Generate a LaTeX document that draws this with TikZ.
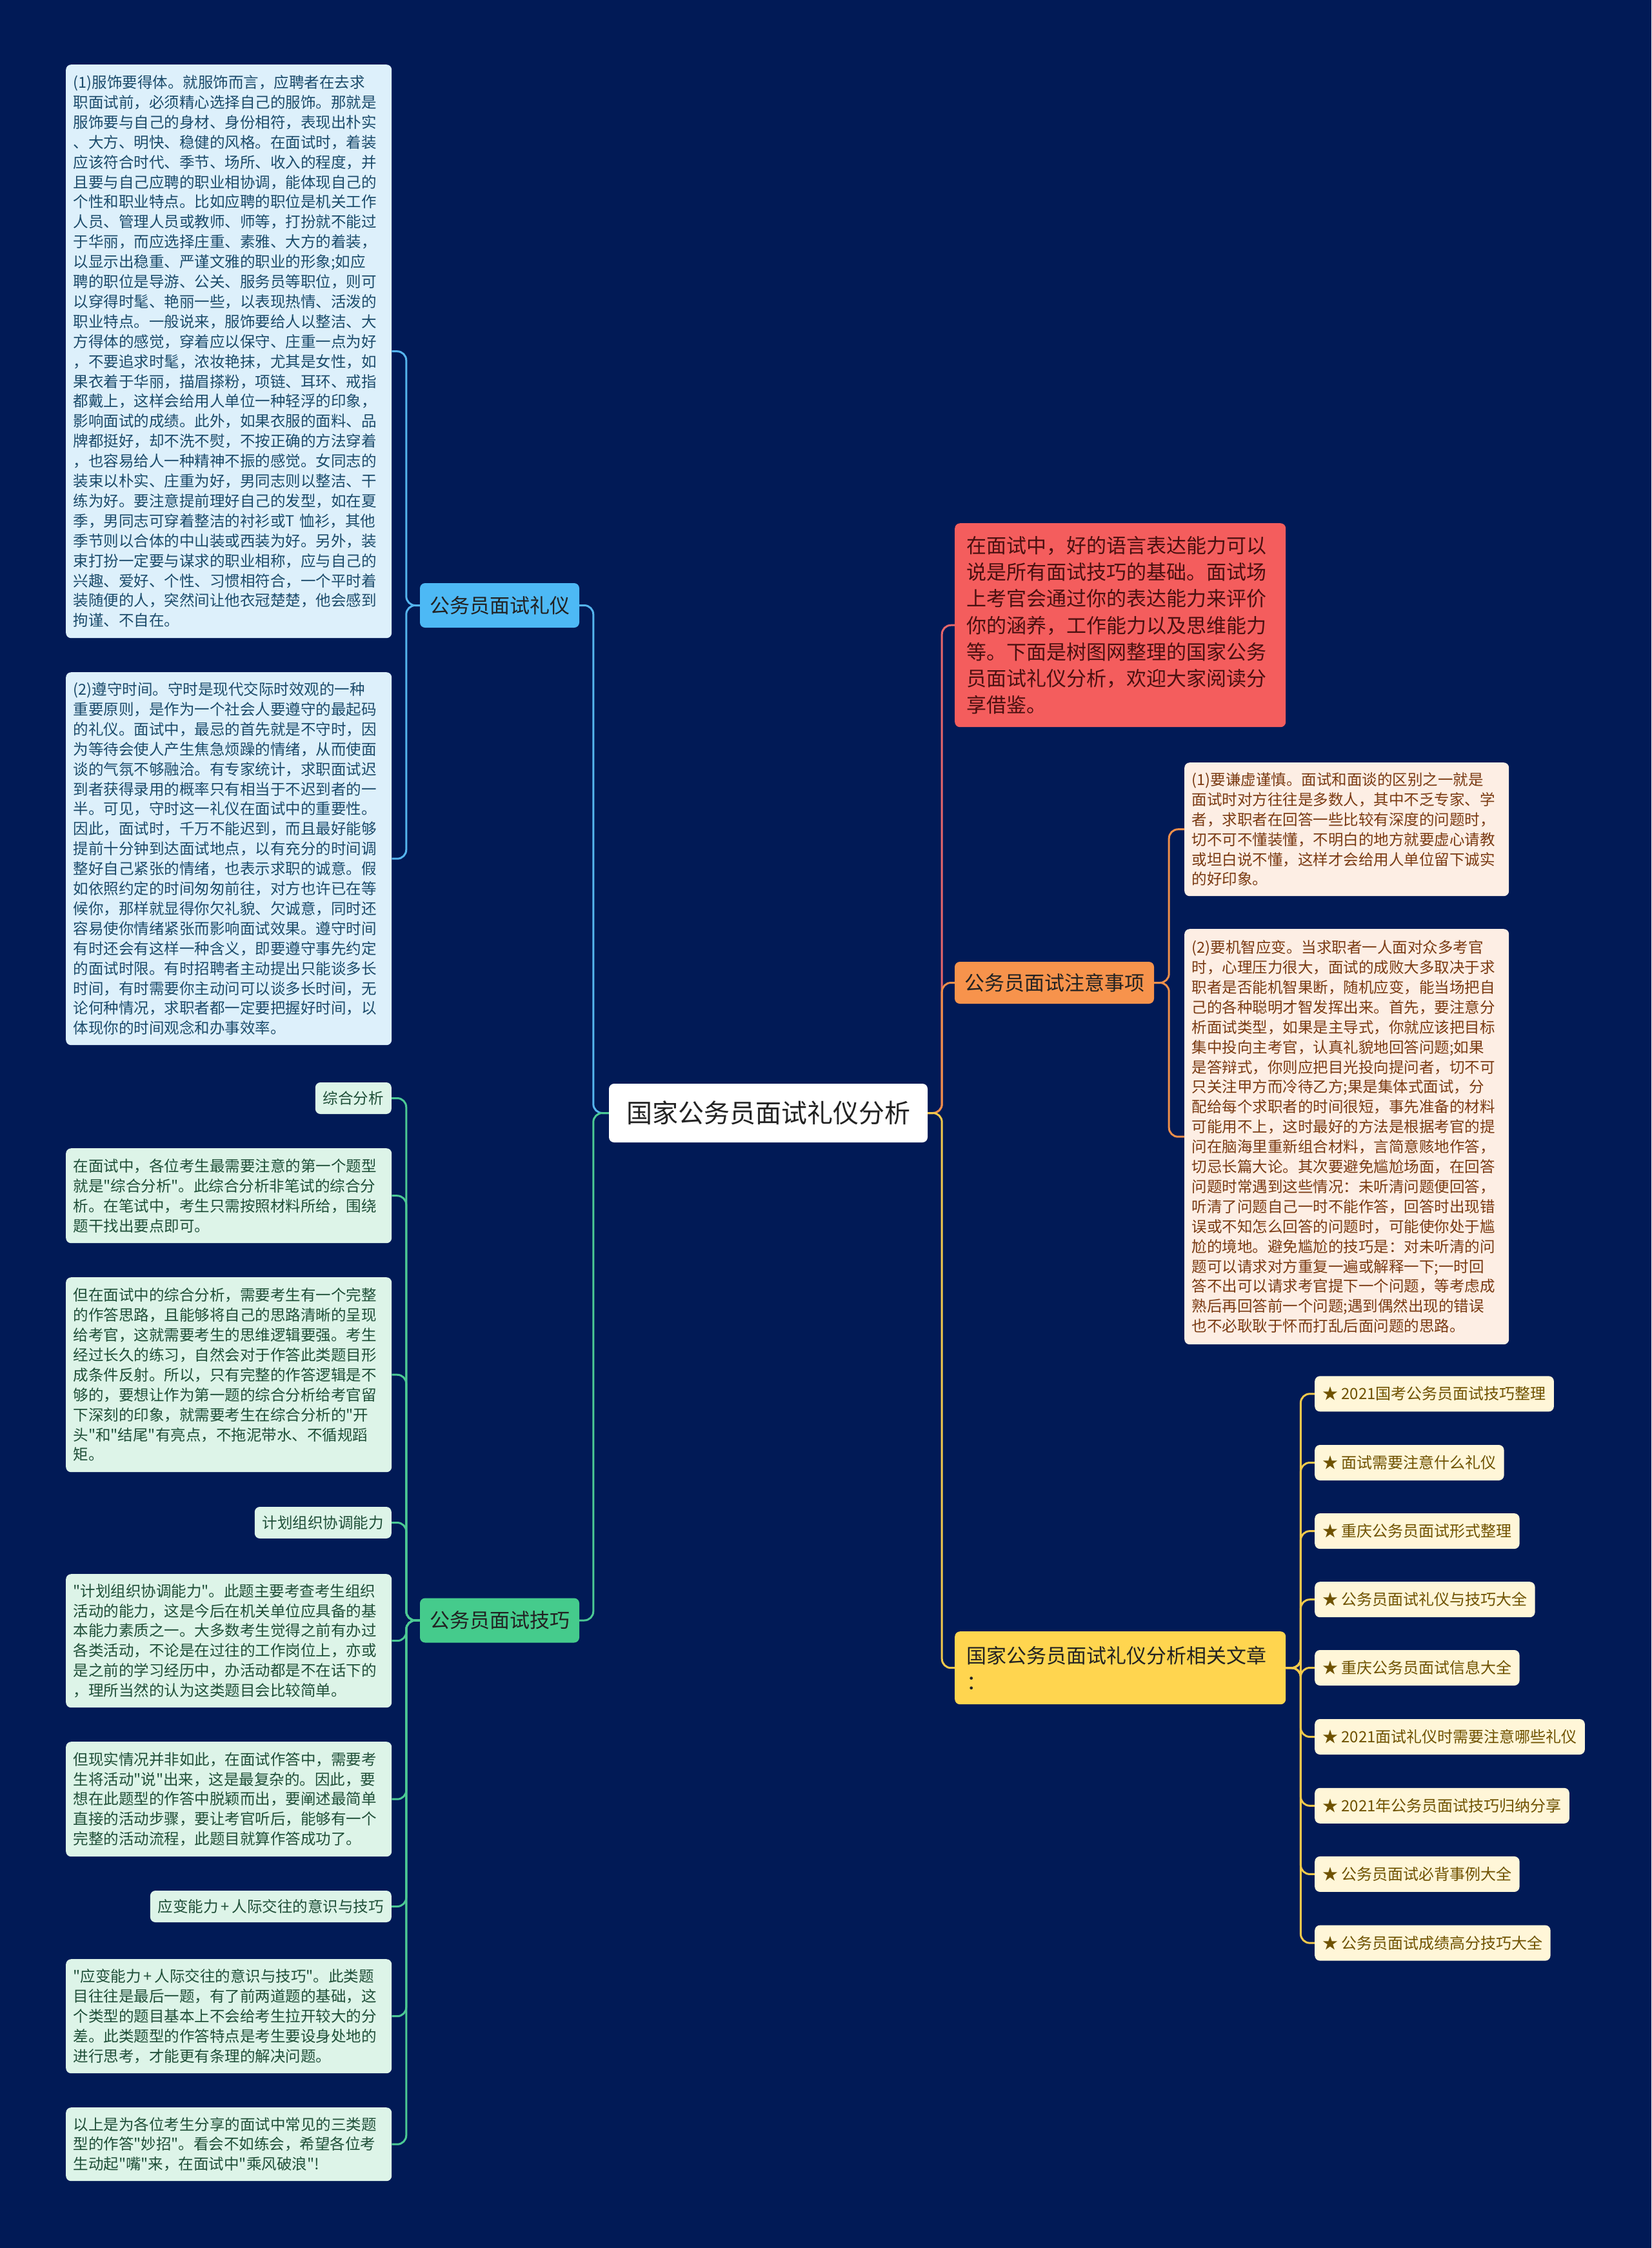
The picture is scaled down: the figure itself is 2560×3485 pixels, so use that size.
\documentclass[tikz,border=0pt]{standalone}
\usepackage{fontspec}
\setmainfont{Noto Sans CJK SC}
\newfontfamily\cjk{Noto Sans CJK SC}
\definecolor{bgc}{HTML}{011A56}
\definecolor{bluefill}{HTML}{DDF0FB}
\definecolor{bluetext}{HTML}{1B4B6B}
\definecolor{bluenode}{HTML}{4DB9F5}
\definecolor{blueline}{HTML}{55B5EE}
\definecolor{greenfill}{HTML}{DDF4E8}
\definecolor{greentext}{HTML}{1F4F38}
\definecolor{greennode}{HTML}{45CB8C}
\definecolor{greenline}{HTML}{4CC994}
\definecolor{redfill}{HTML}{F45D5D}
\definecolor{redtext}{HTML}{4A1010}
\definecolor{redline}{HTML}{E8676B}
\definecolor{orangenode}{HTML}{F7934C}
\definecolor{orangefill}{HTML}{FDEEE4}
\definecolor{orangetext}{HTML}{7A3A12}
\definecolor{orangeline}{HTML}{EE8F4A}
\definecolor{yellownode}{HTML}{FFD54F}
\definecolor{yellowfill}{HTML}{FFF6D8}
\definecolor{yellowtext}{HTML}{6F5200}
\definecolor{yellowline}{HTML}{F2C94C}
\definecolor{maintext}{HTML}{222222}
\tikzset{
  base/.style={rounded corners=8pt, inner ysep=0pt, align=left},
  small/.style={font=\cjk\fontsize{23.5}{30.9}\selectfont},
  big/.style={font=\cjk\fontsize{31}{41.1}\selectfont},
  blockbox/.style={base, small, text width=482pt, inner xsep=11.5pt, anchor=north west},
  bluebox/.style={blockbox, fill=bluefill, text=bluetext},
  greenbox/.style={blockbox, fill=greenfill, text=greentext},
  orangebox/.style={blockbox, fill=orangefill, text=orangetext, text width=480pt, inner xsep=11.5pt},
  greenlabel/.style={base, small, fill=greenfill, text=greentext, inner xsep=12pt, minimum height=49pt, anchor=east},
  mainnode/.style={base, big, text=maintext, minimum width=247pt, minimum height=69pt, inner xsep=0pt, align=center},
  rootnode/.style={base, fill=white, text=maintext, font=\cjk\fontsize{40}{48}\selectfont, minimum width=494pt, minimum height=91pt, inner xsep=0pt, align=center},
  bigbox/.style={base, big, text width=477pt, inner xsep=18pt, anchor=north west},
  itembox/.style={base, fill=yellowfill, text=yellowtext, font=\cjk\fontsize{24}{30}\selectfont, inner xsep=12pt, minimum height=55pt, anchor=west},
  conn/.style={line width=3pt, rounded corners=14pt}
}
\begin{document}
\begin{tikzpicture}[x=1pt,y=-1pt]
\fill[bgc] (0,0) rectangle (2560,3485);
\useasboundingbox (0,0) rectangle (2560,3485);

% root
\node[rootnode] (root) at (1191,1725.5) {国家公务员面试礼仪分析};

% left main branches
\node[mainnode, fill=bluenode] (bm) at (774.5,938.5) {公务员面试礼仪};
\node[mainnode, fill=greennode] (gm) at (774.5,2512) {公务员面试技巧};

% blue blocks
\node[bluebox, minimum height=889pt] (b1) at (102,100) {(1)服饰要得体。就服饰而言，应聘者在去求\\
职面试前，必须精心选择自己的服饰。那就是\\
服饰要与自己的身材、身份相符，表现出朴实\\
、大方、明快、稳健的风格。在面试时，着装\\
应该符合时代、季节、场所、收入的程度，并\\
且要与自己应聘的职业相协调，能体现自己的\\
个性和职业特点。比如应聘的职位是机关工作\\
人员、管理人员或教师、师等，打扮就不能过\\
于华丽，而应选择庄重、素雅、大方的着装，\\
以显示出稳重、严谨文雅的职业的形象;如应\\
聘的职位是导游、公关、服务员等职位，则可\\
以穿得时髦、艳丽一些，以表现热情、活泼的\\
职业特点。一般说来，服饰要给人以整洁、大\\
方得体的感觉，穿着应以保守、庄重一点为好\\
，不要追求时髦，浓妆艳抹，尤其是女性，如\\
果衣着于华丽，描眉搽粉，项链、耳环、戒指\\
都戴上，这样会给用人单位一种轻浮的印象，\\
影响面试的成绩。此外，如果衣服的面料、品\\
牌都挺好，却不洗不熨，不按正确的方法穿着\\
，也容易给人一种精神不振的感觉。女同志的\\
装束以朴实、庄重为好，男同志则以整洁、干\\
练为好。要注意提前理好自己的发型，如在夏\\
季，男同志可穿着整洁的衬衫或T 恤衫，其他\\
季节则以合体的中山装或西装为好。另外，装\\
束打扮一定要与谋求的职业相称，应与自己的\\
兴趣、爱好、个性、习惯相符合，一个平时着\\
装随便的人，突然间让他衣冠楚楚，他会感到\\
拘谨、不自在。};

\node[bluebox, minimum height=578pt] (b2) at (102,1042) {(2)遵守时间。守时是现代交际时效观的一种\\
重要原则，是作为一个社会人要遵守的最起码\\
的礼仪。面试中，最忌的首先就是不守时，因\\
为等待会使人产生焦急烦躁的情绪，从而使面\\
谈的气氛不够融洽。有专家统计，求职面试迟\\
到者获得录用的概率只有相当于不迟到者的一\\
半。可见，守时这一礼仪在面试中的重要性。\\
因此，面试时，千万不能迟到，而且最好能够\\
提前十分钟到达面试地点，以有充分的时间调\\
整好自己紧张的情绪，也表示求职的诚意。假\\
如依照约定的时间匆匆前往，对方也许已在等\\
候你，那样就显得你欠礼貌、欠诚意，同时还\\
容易使你情绪紧张而影响面试效果。遵守时间\\
有时还会有这样一种含义，即要遵守事先约定\\
的面试时限。有时招聘者主动提出只能谈多长\\
时间，有时需要你主动问可以谈多长时间，无\\
论何种情况，求职者都一定要把握好时间，以\\
体现你的时间观念和办事效率。};

% green children
\node[greenlabel] (g0) at (607,1702.5) {综合分析};
\node[greenbox, minimum height=147pt] (g1) at (102,1780) {在面试中，各位考生最需要注意的第一个题型\\
就是"综合分析"。此综合分析非笔试的综合分\\
析。在笔试中，考生只需按照材料所给，围绕\\
题干找出要点即可。};
\node[greenbox, minimum height=302pt] (g2) at (102,1980) {但在面试中的综合分析，需要考生有一个完整\\
的作答思路，且能够将自己的思路清晰的呈现\\
给考官，这就需要考生的思维逻辑要强。考生\\
经过长久的练习，自然会对于作答此类题目形\\
成条件反射。所以，只有完整的作答逻辑是不\\
够的，要想让作为第一题的综合分析给考官留\\
下深刻的印象，就需要考生在综合分析的"开\\
头"和"结尾"有亮点，不拖泥带水、不循规蹈\\
矩。};
\node[greenlabel] (g3) at (607,2360.5) {计划组织协调能力};
\node[greenbox, minimum height=207pt] (g4) at (102,2440) {"计划组织协调能力"。此题主要考查考生组织\\
活动的能力，这是今后在机关单位应具备的基\\
本能力素质之一。大多数考生觉得之前有办过\\
各类活动，不论是在过往的工作岗位上，亦或\\
是之前的学习经历中，办活动都是不在话下的\\
，理所当然的认为这类题目会比较简单。};
\node[greenbox, minimum height=178pt] (g5) at (102,2700) {但现实情况并非如此，在面试作答中，需要考\\
生将活动"说"出来，这是最复杂的。因此，要\\
想在此题型的作答中脱颖而出，要阐述最简单\\
直接的活动步骤，要让考官听后，能够有一个\\
完整的活动流程，此题目就算作答成功了。};
\node[greenlabel] (g6) at (607,2955.5) {应变能力\,+\,人际交往的意识与技巧};
\node[greenbox, minimum height=177pt] (g7) at (102,3037) {"应变能力\,+\,人际交往的意识与技巧"。此类题\\
目往往是最后一题，有了前两道题的基础，这\\
个类型的题目基本上不会给考生拉开较大的分\\
差。此类题型的作答特点是考生要设身处地的\\
进行思考，才能更有条理的解决问题。};
\node[greenbox, minimum height=114pt] (g8) at (102,3267) {以上是为各位考生分享的面试中常见的三类题\\
型的作答"妙招"。看会不如练会，希望各位考\\
生动起"嘴"来，在面试中"乘风破浪"!};

% right side
\node[bigbox, fill=redfill, text=redtext, minimum height=316pt] (red) at (1480,811) {在面试中，好的语言表达能力可以\\
说是所有面试技巧的基础。面试场\\
上考官会通过你的表达能力来评价\\
你的涵养，工作能力以及思维能力\\
等。下面是树图网整理的国家公务\\
员面试礼仪分析，欢迎大家阅读分\\
享借鉴。};

\node[mainnode, fill=orangenode, minimum width=309pt, minimum height=65pt] (om) at (1634.5,1523.5) {公务员面试注意事项};

\node[orangebox, minimum height=207pt] (o1) at (1836,1182) {(1)要谦虚谨慎。面试和面谈的区别之一就是\\
面试时对方往往是多数人，其中不乏专家、学\\
者，求职者在回答一些比较有深度的问题时，\\
切不可不懂装懂，不明白的地方就要虚心请教\\
或坦白说不懂，这样才会给用人单位留下诚实\\
的好印象。};

\node[orangebox, minimum height=644pt] (o2) at (1836,1440) {(2)要机智应变。当求职者一人面对众多考官\\
时，心理压力很大，面试的成败大多取决于求\\
职者是否能机智果断，随机应变，能当场把自\\
己的各种聪明才智发挥出来。首先，要注意分\\
析面试类型，如果是主导式，你就应该把目标\\
集中投向主考官，认真礼貌地回答问题;如果\\
是答辩式，你则应把目光投向提问者，切不可\\
只关注甲方而冷待乙方;果是集体式面试，分\\
配给每个求职者的时间很短，事先准备的材料\\
可能用不上，这时最好的方法是根据考官的提\\
问在脑海里重新组合材料，言简意赅地作答，\\
切忌长篇大论。其次要避免尴尬场面，在回答\\
问题时常遇到这些情况：未听清问题便回答，\\
听清了问题自己一时不能作答，回答时出现错\\
误或不知怎么回答的问题时，可能使你处于尴\\
尬的境地。避免尴尬的技巧是：对未听清的问\\
题可以请求对方重复一遍或解释一下;一时回\\
答不出可以请求考官提下一个问题，等考虑成\\
熟后再回答前一个问题;遇到偶然出现的错误\\
也不必耿耿于怀而打乱后面问题的思路。};

\node[bigbox, fill=yellownode, text=maintext, minimum height=113pt] (ym) at (1480,2529) {国家公务员面试礼仪分析相关文章\\
：};

\node[itembox] (y1) at (2038,2160.8) {★ 2021国考公务员面试技巧整理};
\node[itembox] (y2) at (2038,2267.5) {★ 面试需要注意什么礼仪};
\node[itembox] (y3) at (2038,2373.6) {★ 重庆公务员面试形式整理};
\node[itembox] (y4) at (2038,2479.7) {★ 公务员面试礼仪与技巧大全};
\node[itembox] (y5) at (2038,2585.5) {★ 重庆公务员面试信息大全};
\node[itembox] (y6) at (2038,2692.5) {★ 2021面试礼仪时需要注意哪些礼仪};
\node[itembox] (y7) at (2038,2799.3) {★ 2021年公务员面试技巧归纳分享};
\node[itembox] (y8) at (2038,2905.4) {★ 公务员面试必背事例大全};
\node[itembox] (y9) at (2038,3012.1) {★ 公务员面试成绩高分技巧大全};

% connectors: root to main branches
\draw[conn, blueline] (root.west) -- ++(-24,0) |- (bm.east);
\draw[conn, greenline] (root.west) -- ++(-24,0) |- (gm.east);
\draw[conn, redline] (root.east) -- ++(22,0) |- (red.west);
\draw[conn, orangeline] (root.east) -- ++(22,0) |- (om.west);
\draw[conn, yellowline] (root.east) -- ++(22,0) |- (ym.west);

% blue children
\foreach \c in {b1,b2}
  \draw[conn, blueline] (bm.west) -- ++(-21,0) |- (\c.east);
% green children
\foreach \c in {g0,g1,g2,g3,g4,g5,g6,g7,g8}
  \draw[conn, greenline] (gm.west) -- ++(-21,0) |- (\c.east);
% orange children
\foreach \c in {o1,o2}
  \draw[conn, orangeline] (om.east) -- ++(23,0) |- (\c.west);
% yellow children
\foreach \c in {y1,y2,y3,y4,y5,y6,y7,y8,y9}
  \draw[conn, yellowline] (ym.east) -- ++(23,0) |- (\c.west);
\end{tikzpicture}
\end{document}
